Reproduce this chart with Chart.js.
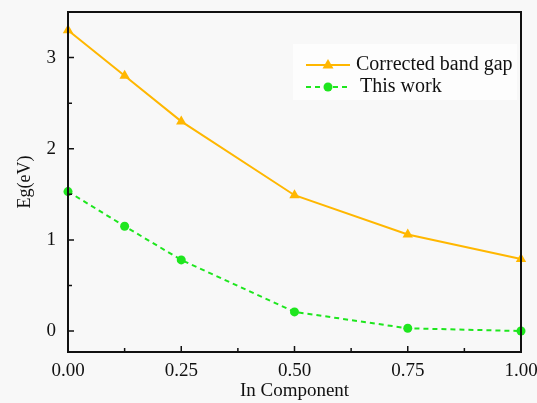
<!DOCTYPE html>
<html>
<head>
<meta charset="utf-8">
<script src="https://cdn.jsdelivr.net/npm/chart.js@4"></script>
<style>
  html, body { margin: 0; padding: 0; background: #f8f8f8; }
  #wrap { width: 537px; height: 403px; }
</style>
</head>
<body>
<div id="wrap"><canvas id="c"></canvas></div>
<script>
// data
const inComponent = [0, 0.125, 0.25, 0.5, 0.75, 1.0];
const correctedGap = [3.30, 2.80, 2.30, 1.49, 1.06, 0.79];
const thisWork = [1.53, 1.15, 0.78, 0.21, 0.03, 0.00];
const xTicks = [0, 0.25, 0.5, 0.75, 1.0];
const yTicks = [0, 1, 2, 3];

const ORANGE = '#ffb700';
const GREEN = '#1ee61e';
const FONT = '"Liberation Serif", "Times New Roman", serif';

const toPts = (xs, ys) => xs.map((x, i) => ({ x: x, y: ys[i] }));

// frame, inner ticks and the legend
const framePlugin = {
  id: 'frame',
  beforeDraw(chart) {
    const c = chart.ctx;
    c.save();
    c.fillStyle = '#f8f8f8';
    c.fillRect(0, 0, chart.width, chart.height);
    c.restore();
  },
  afterDatasetsDraw(chart) {
    const c = chart.ctx;
    const a = chart.chartArea;
    const xs = chart.scales.x, ys = chart.scales.y;
    c.save();
    c.strokeStyle = '#111';
    c.lineWidth = 1.5;
    // major + minor ticks, pointing inward
    c.beginPath();
    xTicks.forEach((v, i) => {
      let px = xs.getPixelForValue(v);
      c.moveTo(px, a.bottom); c.lineTo(px, a.bottom - 6);
      if (i < xTicks.length - 1) {
        px = xs.getPixelForValue((v + xTicks[i + 1]) / 2);
        c.moveTo(px, a.bottom); c.lineTo(px, a.bottom - 4);
      }
    });
    yTicks.forEach((v, i) => {
      let py = ys.getPixelForValue(v);
      c.moveTo(a.left, py); c.lineTo(a.left + 6, py);
      if (i < yTicks.length - 1) {
        py = ys.getPixelForValue((v + yTicks[i + 1]) / 2);
        c.moveTo(a.left, py); c.lineTo(a.left + 4, py);
      }
    });
    c.stroke();
    c.lineWidth = 2;
    c.strokeRect(a.left, a.top, a.right - a.left, a.bottom - a.top);

    // legend
    c.fillStyle = '#fdfdfd';
    c.fillRect(a.left + 225, a.top + 32, 224, 56);
    const rows = [
      { ds: chart.data.datasets[0], y: a.top + 53, tx: a.left + 288 },
      { ds: chart.data.datasets[1], y: a.top + 75, tx: a.left + 292 }
    ];
    rows.forEach(r => {
      const x0 = a.left + 238, x1 = a.left + 282, xm = (x0 + x1) / 2;
      c.strokeStyle = r.ds.borderColor;
      c.lineWidth = r.ds.borderWidth;
      c.setLineDash(r.ds.borderDash || []);
      c.beginPath(); c.moveTo(x0, r.y); c.lineTo(x1, r.y); c.stroke();
      c.setLineDash([]);
      c.fillStyle = r.ds.pointBackgroundColor;
      c.beginPath();
      if (r.ds.pointStyle === 'triangle') {
        c.moveTo(xm, r.y - 6); c.lineTo(xm + 5.5, r.y + 3.5); c.lineTo(xm - 5.5, r.y + 3.5);
        c.closePath();
      } else {
        c.arc(xm, r.y, 4.5, 0, Math.PI * 2);
      }
      c.fill();
      c.fillStyle = '#111';
      c.font = '20px ' + FONT;
      c.textBaseline = 'middle';
      c.fillText(r.ds.label, r.tx, r.y);
    });
    c.restore();
  }
};

new Chart(document.getElementById('c'), {
  type: 'line',
  data: {
    datasets: [
      {
        label: 'Corrected band gap',
        data: toPts(inComponent, correctedGap),
        borderColor: ORANGE,
        backgroundColor: ORANGE,
        pointBackgroundColor: ORANGE,
        pointBorderWidth: 0,
        borderWidth: 2,
        pointStyle: 'triangle',
        pointRadius: 6,
        tension: 0
      },
      {
        label: 'This work',
        data: toPts(inComponent, thisWork),
        borderColor: GREEN,
        backgroundColor: GREEN,
        pointBackgroundColor: GREEN,
        pointBorderWidth: 0,
        borderWidth: 2,
        borderDash: [5, 4],
        pointStyle: 'circle',
        pointRadius: 4.5,
        tension: 0
      }
    ]
  },
  options: {
    responsive: true,
    maintainAspectRatio: false,
    animation: false,
    clip: false,
    layout: { padding: { top: 12, right: 16, left: 0, bottom: 0 } },
    plugins: {
      legend: { display: false },
      tooltip: { enabled: false }
    },
    scales: {
      x: {
        type: 'linear',
        min: 0,
        max: 1,
        afterBuildTicks: s => { s.ticks = xTicks.map(v => ({ value: v })); },
        afterFit: s => { s.height = 51; s.paddingLeft = 0; s.paddingRight = 0; },
        grid: { display: false, drawTicks: false },
        border: { display: false },
        ticks: {
          padding: 8,
          color: '#111',
          maxRotation: 0,
          font: { family: FONT, size: 19 },
          callback: v => Number(v).toFixed(2)
        },
        title: {
          display: true,
          text: 'In Component',
          color: '#111',
          font: { family: FONT, size: 19 },
          padding: { top: 0, bottom: 1 }
        }
      },
      y: {
        type: 'linear',
        min: -0.23,
        max: 3.5,
        afterBuildTicks: s => { s.ticks = yTicks.map(v => ({ value: v })); },
        afterFit: s => { s.width = 68; s.paddingTop = 0; s.paddingBottom = 0; },
        grid: { display: false, drawTicks: false },
        border: { display: false },
        ticks: {
          padding: 12,
          color: '#111',
          font: { family: FONT, size: 19 },
          callback: v => String(v)
        },
        title: {
          display: true,
          text: 'Eg(eV)',
          color: '#111',
          font: { family: FONT, size: 18 },
          padding: { top: 14, bottom: 0 }
        }
      }
    }
  },
  plugins: [framePlugin]
});
</script>
</body>
</html>
